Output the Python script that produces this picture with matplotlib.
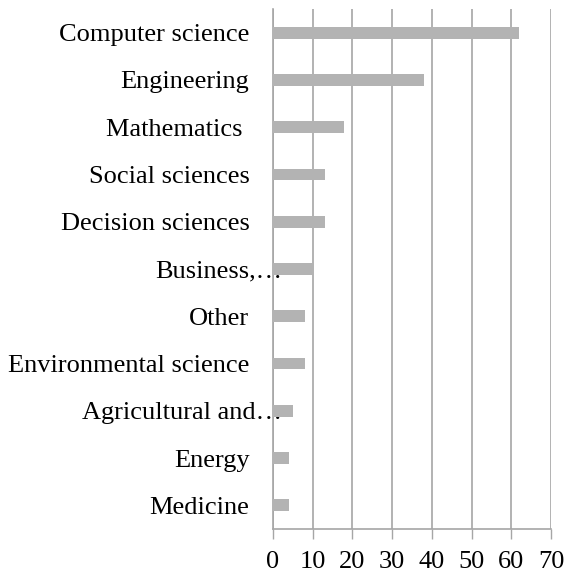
import matplotlib
matplotlib.use("Agg")
import matplotlib.pyplot as plt
import matplotlib.transforms as mtransforms

categories = ["Computer science", "Engineering", "Mathematics ", "Social sciences",
              "Decision sciences", "Business,…", "Other", "Environmental science",
              "Agricultural and…", "Energy", "Medicine"]
values = [62, 38, 18, 13, 13, 10, 8, 8, 5, 4, 4]
xticks = [0, 10, 20, 30, 40, 50, 60, 70]

plt.rcParams['font.family'] = ['Liberation Serif', 'DejaVu Serif']
W, H = 564, 576
fig = plt.figure(figsize=(W / 100, H / 100), dpi=100)
ax = fig.add_axes([273 / W, 1 - 529 / H, (551 - 273) / W, (529 - 9) / H])

n = len(categories)
ypos = list(range(n))
ax.barh(ypos, values, height=0.25, color='#b3b3b3', zorder=3)
ax.set_ylim(n - 0.5, -0.5)
ax.set_xlim(0, 70)
ax.set_xticks(xticks)
ax.set_xticklabels([str(t) for t in xticks], fontsize=19)
ax.set_yticks(ypos)
ax.set_yticklabels(categories, fontsize=19)
ax.tick_params(axis='y', length=0, pad=17)
ax.tick_params(axis='x', length=7, width=1, color='#a6a6a6', pad=9)
ax.grid(axis='x', color='#a6a6a6', linewidth=1.2, zorder=0)
for s in ['top', 'right']:
    ax.spines[s].set_visible(False)
for s in ['left', 'bottom']:
    ax.spines[s].set_color('#a6a6a6')
    ax.spines[s].set_linewidth(1.2)

# truncated labels extend to the axis
for lbl in ax.get_yticklabels():
    if lbl.get_text().endswith('…'):
        lbl.set_transform(lbl.get_transform() + mtransforms.ScaledTranslation(33 / 100, 0, fig.dpi_scale_trans))

fig.savefig("out.png", dpi=100)
